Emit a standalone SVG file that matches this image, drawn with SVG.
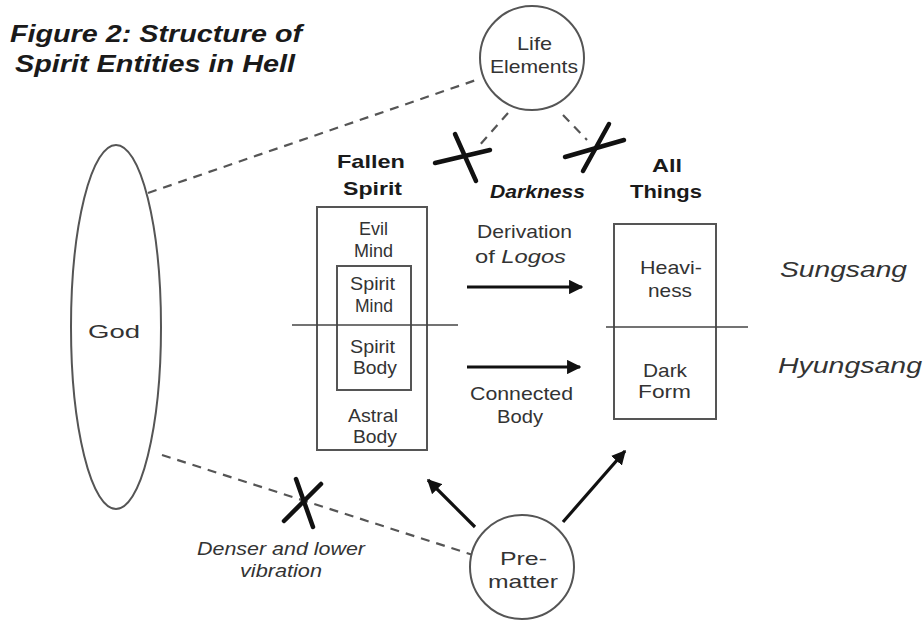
<svg xmlns="http://www.w3.org/2000/svg" width="924" height="621" viewBox="0 0 924 621">
<defs>
<marker id="ah" viewBox="0 0 10 10" refX="9" refY="5" markerWidth="4.5" markerHeight="4.5" markerUnits="strokeWidth" orient="auto">
<path d="M0,0 L10,5 L0,10 Z" fill="#111"/>
</marker>
<style>
text{font-family:"Liberation Sans",Arial,sans-serif;fill:#333;font-size:19px}
.b{font-weight:bold;fill:#1a1a1a}
.i{font-style:italic}
.t{font-weight:bold;font-style:italic;fill:#1a1a1a;font-size:24px}
.shape{fill:#fff;stroke:#555;stroke-width:2}
.dash{fill:none;stroke:#555;stroke-width:2.2;stroke-dasharray:9 7}
.arr{stroke:#111;stroke-width:3.2;fill:none;marker-end:url(#ah)}
.x{stroke:#111;stroke-width:4.5;stroke-linecap:round;fill:none}
.div{stroke:#444;stroke-width:1.6}
</style>
</defs>
<rect width="924" height="621" fill="#fff"/>

<g id="title">
<text class="t" x="10" y="42" textLength="292" lengthAdjust="spacingAndGlyphs">Figure 2: Structure of</text>
<text class="t" x="15" y="72" textLength="280" lengthAdjust="spacingAndGlyphs">Spirit Entities in Hell</text>
</g>

<g id="connectors">
<line class="dash" x1="148" y1="193" x2="479" y2="79"/>
<line class="dash" x1="508" y1="113" x2="478" y2="147"/>
<line class="dash" x1="563" y1="115" x2="587" y2="140"/>
<line class="dash" x1="162" y1="455" x2="473" y2="555"/>
<line class="arr" x1="467" y1="287" x2="582" y2="287"/>
<line class="arr" x1="467" y1="367" x2="580" y2="367"/>
<line class="arr" x1="475" y1="527" x2="428" y2="480"/>
<line class="arr" x1="563" y1="522" x2="625" y2="451"/>
</g>

<g id="crosses">
<line class="x" x1="435" y1="163" x2="490" y2="150"/>
<line class="x" x1="455" y1="134" x2="476" y2="181"/>
<line class="x" x1="565" y1="157" x2="624" y2="140"/>
<line class="x" x1="609" y1="124" x2="583" y2="171"/>
<line class="x" x1="284" y1="521" x2="321" y2="484"/>
<line class="x" x1="296" y1="479" x2="313" y2="527"/>
</g>

<g id="god">
<ellipse class="shape" cx="116" cy="327" rx="45" ry="182"/>
<text x="88" y="338" textLength="52" lengthAdjust="spacingAndGlyphs">God</text>
</g>

<g id="life-elements">
<circle class="shape" cx="532" cy="58" r="52"/>
<text x="517" y="50" textLength="35" lengthAdjust="spacingAndGlyphs">Life</text>
<text x="490" y="73" textLength="88" lengthAdjust="spacingAndGlyphs">Elements</text>
</g>

<g id="fallen-spirit">
<text class="b" x="337" y="168" textLength="68" lengthAdjust="spacingAndGlyphs">Fallen</text>
<text class="b" x="343" y="195" textLength="59" lengthAdjust="spacingAndGlyphs">Spirit</text>
<rect class="shape" x="317" y="207" width="110" height="243"/>
<rect class="shape" x="337" y="266" width="74" height="124"/>
<line class="div" x1="292" y1="325" x2="458" y2="325"/>
<text x="359" y="235" textLength="29" lengthAdjust="spacingAndGlyphs">Evil</text>
<text x="354" y="257" textLength="39" lengthAdjust="spacingAndGlyphs">Mind</text>
<text x="350" y="290" textLength="45" lengthAdjust="spacingAndGlyphs">Spirit</text>
<text x="355" y="312" textLength="38" lengthAdjust="spacingAndGlyphs">Mind</text>
<text x="350" y="353" textLength="45" lengthAdjust="spacingAndGlyphs">Spirit</text>
<text x="353" y="374" textLength="44" lengthAdjust="spacingAndGlyphs">Body</text>
<text x="348" y="422" textLength="50" lengthAdjust="spacingAndGlyphs">Astral</text>
<text x="353" y="443" textLength="44" lengthAdjust="spacingAndGlyphs">Body</text>
</g>

<g id="darkness">
<text class="b i" x="490" y="198" textLength="95" lengthAdjust="spacingAndGlyphs">Darkness</text>
</g>

<g id="derivation-label">
<text x="477" y="238" textLength="95" lengthAdjust="spacingAndGlyphs">Derivation</text>
<text x="475" y="263" textLength="91" lengthAdjust="spacingAndGlyphs">of <tspan class="i">Logos</tspan></text>
</g>

<g id="connected-label">
<text x="470" y="400" textLength="103" lengthAdjust="spacingAndGlyphs">Connected</text>
<text x="497" y="423" textLength="46" lengthAdjust="spacingAndGlyphs">Body</text>
</g>

<g id="all-things">
<text class="b" x="652" y="172" textLength="30" lengthAdjust="spacingAndGlyphs">All</text>
<text class="b" x="630" y="198" textLength="72" lengthAdjust="spacingAndGlyphs">Things</text>
<rect class="shape" x="614" y="224" width="102" height="195"/>
<line class="div" x1="606" y1="327" x2="748" y2="327"/>
<text x="640" y="274" textLength="62" lengthAdjust="spacingAndGlyphs">Heavi-</text>
<text x="648" y="297" textLength="44" lengthAdjust="spacingAndGlyphs">ness</text>
<text x="643" y="377" textLength="44" lengthAdjust="spacingAndGlyphs">Dark</text>
<text x="638" y="398" textLength="53" lengthAdjust="spacingAndGlyphs">Form</text>
</g>

<g id="sungsang">
<text class="i" style="font-size:22px" x="780" y="277" textLength="127" lengthAdjust="spacingAndGlyphs">Sungsang</text>
</g>
<g id="hyungsang">
<text class="i" style="font-size:22px" x="778" y="373" textLength="144" lengthAdjust="spacingAndGlyphs">Hyungsang</text>
</g>

<g id="denser-label">
<text class="i" x="197" y="555" textLength="168" lengthAdjust="spacingAndGlyphs">Denser and lower</text>
<text class="i" x="240" y="577" textLength="82" lengthAdjust="spacingAndGlyphs">vibration</text>
</g>

<g id="pre-matter">
<circle class="shape" cx="522" cy="567" r="52"/>
<text x="500" y="565" textLength="47" lengthAdjust="spacingAndGlyphs">Pre-</text>
<text x="488" y="588" textLength="70" lengthAdjust="spacingAndGlyphs">matter</text>
</g>
</svg>
